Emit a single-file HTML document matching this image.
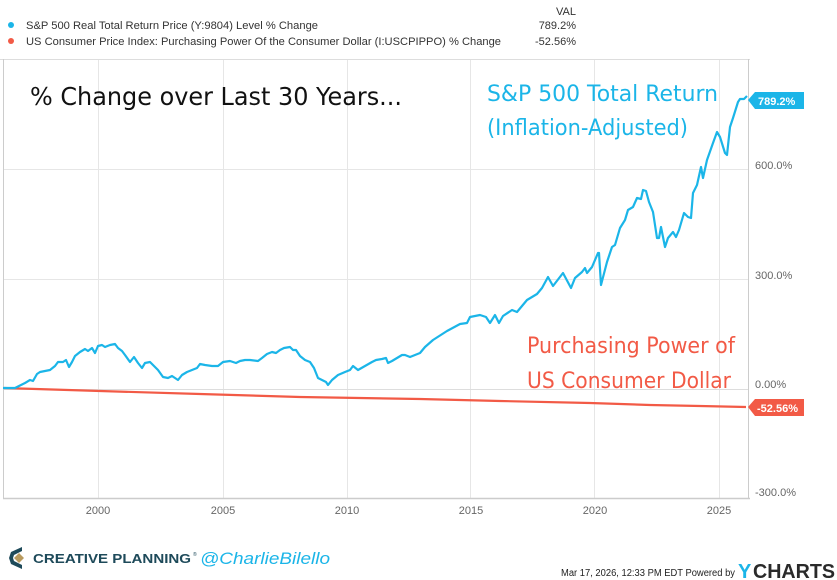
<!DOCTYPE html>
<html><head><meta charset="utf-8"><style>
html,body{margin:0;padding:0;background:#fff;}
svg{display:block;font-family:"Liberation Sans",sans-serif;}
</style></head><body>
<svg width="837" height="580" viewBox="0 0 837 580" xmlns="http://www.w3.org/2000/svg">
<!-- legend -->
<text x="576" y="15" font-size="11" fill="#333" text-anchor="end">VAL</text>
<circle cx="11" cy="25" r="3" fill="#1bb5e8"/>
<text x="26" y="29" font-size="11" fill="#333" textLength="292" lengthAdjust="spacingAndGlyphs">S&amp;P 500 Real Total Return Price (Y:9804) Level % Change</text>
<text x="576" y="29" font-size="11" fill="#333" text-anchor="end">789.2%</text>
<circle cx="11" cy="41" r="3" fill="#f25a46"/>
<text x="26" y="45" font-size="11" fill="#333" textLength="475" lengthAdjust="spacingAndGlyphs">US Consumer Price Index: Purchasing Power Of the Consumer Dollar (I:USCPIPPO) % Change</text>
<text x="576" y="45" font-size="11" fill="#333" text-anchor="end">-52.56%</text>
<!-- frame -->
<line x1="0" y1="59.5" x2="750" y2="59.5" stroke="#ddd"/>
<line x1="3.5" y1="59" x2="3.5" y2="499" stroke="#ccc"/>
<line x1="748.5" y1="59" x2="748.5" y2="499" stroke="#ccc"/>
<g stroke="#e6e6e6" stroke-width="1">
<line x1="4" y1="169.5" x2="748" y2="169.5"/>
<line x1="4" y1="279.5" x2="748" y2="279.5"/>
<line x1="98.5" y1="60" x2="98.5" y2="498"/>
<line x1="223.5" y1="60" x2="223.5" y2="498"/>
<line x1="347.5" y1="60" x2="347.5" y2="498"/>
<line x1="470.5" y1="60" x2="470.5" y2="498"/>
<line x1="594.5" y1="60" x2="594.5" y2="498"/>
<line x1="719.5" y1="60" x2="719.5" y2="498"/>
</g>
<line x1="4" y1="389.5" x2="748" y2="389.5" stroke="#ddd"/>
<line x1="3" y1="498.5" x2="750" y2="498.5" stroke="#ccc" stroke-width="1.5"/>
<!-- y labels -->
<g font-size="11" fill="#666">
<text x="755" y="169">600.0%</text>
<text x="755" y="279">300.0%</text>
<text x="755" y="388">0.00%</text>
<text x="755" y="496">-300.0%</text>
</g>
<g font-size="11" fill="#666" text-anchor="middle">
<text x="98" y="514">2000</text>
<text x="223" y="514">2005</text>
<text x="347" y="514">2010</text>
<text x="471" y="514">2015</text>
<text x="595" y="514">2020</text>
<text x="719" y="514">2025</text>
</g>
<!-- series -->
<polyline fill="none" stroke="#f25a46" stroke-width="2.2" points="4,388 100,391 200,394 300,397 420,399 500,401 590,403 650,405 700,406 746,407"/>
<polyline fill="none" stroke="#1bb5e8" stroke-width="2.2" stroke-linejoin="round" points="3,388 15,388 25,383 30,380 33,381 37,374 40,372 50,370 55,366 58,362 63,362 66,360 69,367 72,362 75,356 80,352 85,349 88,351 92,348 95,353 98,346 102,345 105,347 110,345 115,344 118,348 122,351 125,355 130,362 134,357 138,363 142,368 145,363 150,362 154,366 158,370 163,377 168,378 172,376 175,378 178,380 182,375 187,372 192,370 197,368 200,364 205,365 212,366 218,366 223,362 230,361 236,363 240,361 245,360 250,360 258,361 262,358 267,354 272,352 276,353 280,350 284,348 290,347 293,350 296,350 300,356 305,360 310,362 314,368 318,378 322,380 326,382 328,385 332,380 338,375 345,372 350,370 353,366 358,370 365,366 372,362 376,360 382,359 386,358 388,363 392,361 397,358 402,355 405,355 410,357 415,355 420,353 425,347 433,340 447,331 460,324 467,323 470,317 480,315 486,317 490,323 495,315 499,323 503,316 512,310 517,312 527,300 537,294 542,288 548,277 553,286 563,273 571,288 575,278 582,272 585,268 587,273 592,267 598,253 599,253 601,285 607,262 612,247 615,245 620,228 625,220 628,210 633,207 637,198 641,199 643,190 646,191 649,202 653,212 657,238 659,238 661,227 665,247 668,238 673,232 676,237 679,230 684,213 688,217 691,218 693,193 697,185 701,167 703,178 707,160 713,143 717,132 720,137 725,153 727,155 730,127 733,118 738,102 740,99 744,99 747,96"/>
<!-- value tags -->
<polygon points="748,100 755,92 804,92 804,109 755,109" fill="#1bb5e8"/>
<text x="758" y="105" font-size="11" font-weight="bold" fill="#fff">789.2%</text>
<polygon points="748,407 755,399 804,399 804,416 755,416" fill="#f25a46"/>
<text x="757" y="412" font-size="11" font-weight="bold" fill="#fff">-52.56%</text>
<!-- annotations -->
<text x="30" y="105" font-size="25" fill="#111" font-family="'DejaVu Sans',sans-serif" textLength="372" lengthAdjust="spacingAndGlyphs">% Change over Last 30 Years...</text>
<text x="487" y="101" font-size="22" fill="#1bb5e8" font-family="'DejaVu Sans',sans-serif" textLength="231" lengthAdjust="spacingAndGlyphs">S&amp;P 500 Total Return</text>
<text x="487" y="135" font-size="22" fill="#1bb5e8" font-family="'DejaVu Sans',sans-serif" textLength="201" lengthAdjust="spacingAndGlyphs">(Inflation-Adjusted)</text>
<text x="527" y="353" font-size="22" fill="#f25a46" font-family="'DejaVu Sans',sans-serif" textLength="208" lengthAdjust="spacingAndGlyphs">Purchasing Power of</text>
<text x="527" y="388" font-size="22" fill="#f25a46" font-family="'DejaVu Sans',sans-serif" textLength="204" lengthAdjust="spacingAndGlyphs">US Consumer Dollar</text>
<!-- footer -->
<path d="M22,547 L11,552 L9,558 L11,564 L22,569 L22,565 L14,561 L13,558 L14,555 L22,551 Z" fill="#1e4a5a"/>
<polygon points="19,553 24,558 19,563 14,558" fill="#b89a5e"/>
<text x="33" y="563" font-size="13" font-weight="bold" fill="#1e4a5a" textLength="158" lengthAdjust="spacingAndGlyphs">CREATIVE PLANNING</text>
<text x="193" y="556" font-size="5" fill="#1e4a5a">®</text>
<text x="200" y="564" font-size="17" font-style="italic" fill="#1bb5e8" textLength="130" lengthAdjust="spacingAndGlyphs">@CharlieBilello</text>
<text x="561" y="576" font-size="10" fill="#222" textLength="174" lengthAdjust="spacingAndGlyphs">Mar 17, 2026, 12:33 PM EDT Powered by</text>
<text x="738" y="578" font-size="20" font-weight="bold" fill="#1bb5e8">Y</text>
<text x="753" y="578" font-size="20" font-weight="bold" fill="#2a2a2a" textLength="82" lengthAdjust="spacingAndGlyphs">CHARTS</text>
</svg>
</body></html>
